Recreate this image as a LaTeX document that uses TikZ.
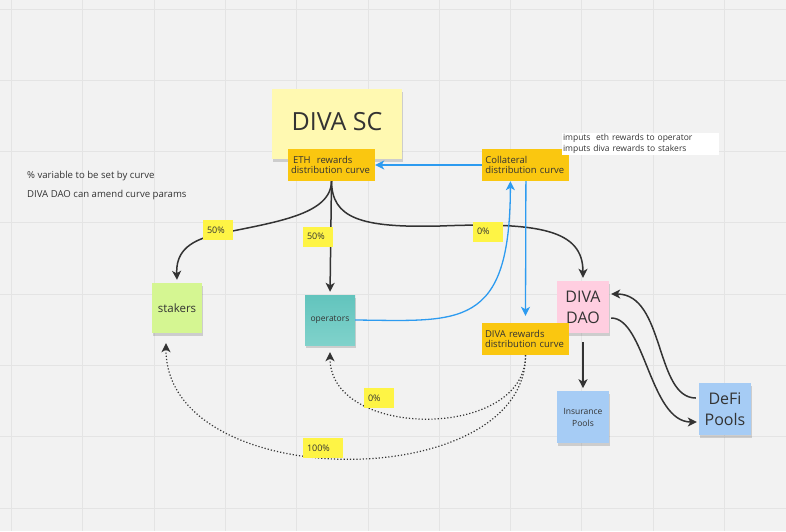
\documentclass[tikz,border=0pt]{standalone}
\usepackage{fontspec}
\setmainfont{Open Sans}
\usetikzlibrary{arrows.meta,positioning,shadows}

\definecolor{board}{HTML}{F2F2F2}
\definecolor{gridline}{HTML}{E4E4E4}
\definecolor{scyellow}{HTML}{FFF9B1}
\definecolor{curveorange}{HTML}{FAC710}
\definecolor{pctyellow}{HTML}{FEF445}
\definecolor{stakegreen}{HTML}{D5F692}
\definecolor{tealtop}{HTML}{62C4BD}
\definecolor{tealbottom}{HTML}{80D2CB}
\definecolor{daopink}{HTML}{FFCEE0}
\definecolor{poolblue}{HTML}{A6CCF5}
\definecolor{flowblue}{HTML}{2D9BF0}
\definecolor{ink}{HTML}{333333}

\begin{document}
\begin{tikzpicture}[x=1pt, y=-1pt, >={Stealth[length=9pt, width=9pt, inset=2.5pt]},
    every node/.style={text=ink, inner sep=0pt},
    note/.style={minimum width=50pt, minimum height=50pt, align=center, drop shadow={shadow xshift=0.5pt, shadow yshift=-2.5pt, opacity=0.15, fill=black}},
    curvebox/.style={fill=curveorange, minimum height=32pt, text width=81pt, inner xsep=3pt, align=left, font=\fontsize{9.5}{10.8}\selectfont},
    pct/.style={fill=pctyellow, minimum height=20pt, text width=22pt, inner xsep=4pt, align=left, font=\fontsize{9}{10}\selectfont},
    hint/.style={anchor=west, font=\fontsize{9.6}{11}\selectfont},
    darkflow/.style={->, draw=ink, line width=1.5pt},
    blueflow/.style={->, draw=flowblue, line width=1.3pt},
    dotflow/.style={->, draw=ink, line width=1.2pt, dotted}]

    \fill[board] (0,0) rectangle (786,531);
    \useasboundingbox (0,0) rectangle (786,531);
    \foreach \gx in {11.5,82.8,...,786} \draw[gridline, line width=1pt] (\gx,0) -- (\gx,531);
    \foreach \gy in {9,80.3,...,531} \draw[gridline, line width=1pt] (0,\gy) -- (786,\gy);

    \node[note, fill=scyellow, minimum width=130pt, minimum height=70pt, font=\fontsize{25}{30}\selectfont] (sc) at (337,124) {\raisebox{5pt}{DIVA SC}};
    \node[curvebox] (eth) at (331.5,165) {\hspace{2pt}ETH\ \ rewards\\distribution curve};
    \node[curvebox, right=107pt of eth] (coll) {Collateral\\distribution curve};
    \node[fill=white, minimum height=22pt, text width=155pt, inner xsep=1pt, align=left, font=\fontsize{8.5}{11}\selectfont] (imputs) at (640.5,144) {imputs\ \ eth rewards to operator\\imputs diva rewards to stakers};

    \node[hint] (pctnote) at (27,176) {\% variable to be set by curve};
    \node[hint] (daonote) at (27,195) {DIVA DAO can amend curve params};

    \node[note, fill=stakegreen, font=\fontsize{11.5}{14}\selectfont] (stakers) at (177,308) {stakers};
    \node[note, top color=tealtop, bottom color=tealbottom, font=\fontsize{8.5}{10}\selectfont] (ops) at (330,320) {operators};
    \node[note, fill=daopink, minimum width=52pt, minimum height=52pt, font=\fontsize{16}{21}\selectfont] (dao) at (583,307) {DIVA\\DAO};
    \node[note, fill=poolblue, minimum width=52pt, minimum height=52pt, font=\fontsize{8.5}{12}\selectfont, below=58pt of dao] (ins) {Insurance\\Pools};
    \node[note, fill=poolblue, minimum width=52pt, minimum height=52pt, font=\fontsize{16}{21}\selectfont] (defi) at (725,409) {DeFi\\Pools};
    \node[curvebox] (divar) at (525.5,339) {DIVA rewards\\distribution curve};

    \draw[darkflow] (eth.south) .. controls (331,215) and (275,222) .. (218,234) .. controls (185,241) and (176,255) .. ([yshift=3pt]stakers.north);
    \draw[darkflow, shorten >=3pt] (eth.south) -- (ops.north);
    \draw[darkflow] (eth.south) .. controls (332,218) and (360,228) .. (440,226) .. controls (540,222) and (583,230) .. ([yshift=3pt]dao.north);
    \draw[darkflow, shorten <=9pt, shorten >=3pt] (dao.south) -- (ins.north);
    \draw[darkflow] ([xshift=-3pt, yshift=11pt]defi.west) .. controls (655,398) and (665,294) .. ([xshift=2pt, yshift=13pt]dao.east);
    \draw[darkflow] ([xshift=2pt, yshift=-11pt]dao.east) .. controls (645,318) and (650,422) .. ([xshift=-2pt, yshift=-13pt]defi.west);

    \draw[blueflow] (coll.west) -- (eth.east);
    \draw[blueflow] (ops.east) .. controls (460,321) and (510,330) .. ([xshift=-15.5pt]coll.south);
    \draw[blueflow] (coll.south) -- ([yshift=7pt]divar.north);

    \draw[dotflow] (divar.south) .. controls (526,440) and (330,440) .. ([yshift=-7pt]ops.south);
    \draw[dotflow] (divar.south) .. controls (526,495) and (166,495) .. ([xshift=-11pt, yshift=-10pt]stakers.south);

    \node[pct] (p50a) at (218,230) {50\%};
    \node[pct] (p50b) at (318,236.5) {50\%};
    \node[pct] (p0a) at (488,231.5) {0\%};
    \node[pct] (p0b) at (379,398) {0\%};
    \node[pct, text width=32pt] (p100) at (323,448) {100\%};
\end{tikzpicture}
\end{document}
